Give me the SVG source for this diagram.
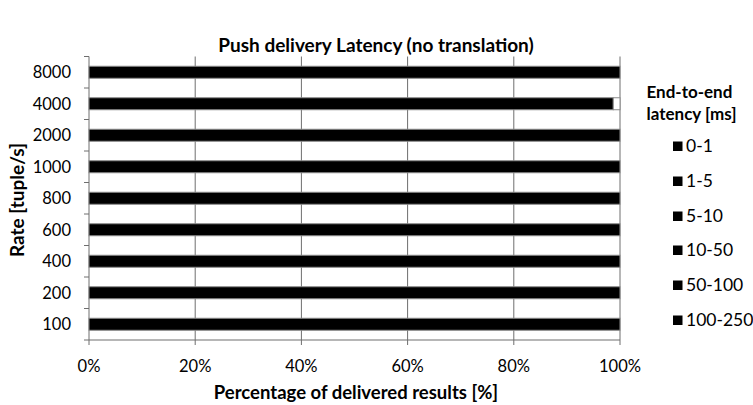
<svg xmlns="http://www.w3.org/2000/svg" width="753" height="405" viewBox="0 0 753 405">
<style>
text{font-family:Lato,"Open Sans","Liberation Sans",sans-serif;fill:#000}
.title{font-size:19px;font-weight:bold}
.axt{font-size:18.5px;font-weight:bold}
.yaxt{font-size:19px;font-weight:bold}
.tick{font-size:16.5px}
.leg{font-size:17.5px}
.legt{font-size:17px;font-weight:bold}
.grid{stroke:#6e6e6e;stroke-width:1}
.axis{stroke:#6e6e6e;stroke-width:1}
.bar{fill:#000;stroke:#8a8a8a;stroke-width:1}
.rest{fill:#fff;stroke:#8a8a8a;stroke-width:1}
.sw{fill:#000}
</style>
<rect width="753" height="405" fill="#fff"/>
<text class="title" x="376" y="52" text-anchor="middle">Push delivery Latency (no translation)</text>
<g id="gridlines">
<line class="grid" x1="195.2" y1="56.5" x2="195.2" y2="345"/>
<line class="grid" x1="301.4" y1="56.5" x2="301.4" y2="345"/>
<line class="grid" x1="407.6" y1="56.5" x2="407.6" y2="345"/>
<line class="grid" x1="513.8" y1="56.5" x2="513.8" y2="345"/>
<line class="grid" x1="620" y1="56.5" x2="620" y2="345"/>
</g>
<g id="axes">
<line class="axis" x1="89" y1="56.5" x2="89" y2="345"/>
<line class="axis" x1="89" y1="340" x2="620" y2="340"/>
<path class="axis" fill="none" d="M84 56.5H89M84 88H89M84 119.5H89M84 151H89M84 182.5H89M84 214H89M84 245.5H89M84 277H89M84 308.5H89M84 340H89"/>
</g>
<g id="bars">
<g id="bar-8000"><rect class="bar" x="89" y="66.25" width="531" height="12"/></g>
<g id="bar-4000"><rect class="bar" x="89" y="97.75" width="524.3" height="12"/><rect class="rest" x="613.3" y="97.75" width="6.7" height="12"/></g>
<g id="bar-2000"><rect class="bar" x="89" y="129.25" width="531" height="12"/></g>
<g id="bar-1000"><rect class="bar" x="89" y="160.75" width="531" height="12"/></g>
<g id="bar-800"><rect class="bar" x="89" y="192.25" width="531" height="12"/></g>
<g id="bar-600"><rect class="bar" x="89" y="223.75" width="531" height="12"/></g>
<g id="bar-400"><rect class="bar" x="89" y="255.25" width="531" height="12"/></g>
<g id="bar-200"><rect class="bar" x="89" y="286.75" width="531" height="12"/></g>
<g id="bar-100"><rect class="bar" x="89" y="318.25" width="531" height="12"/></g>
</g>
<g id="y-labels" text-anchor="end">
<text class="tick" x="71" y="78.2">8000</text>
<text class="tick" x="71" y="109.7">4000</text>
<text class="tick" x="71" y="141.2">2000</text>
<text class="tick" x="71" y="172.7">1000</text>
<text class="tick" x="71" y="204.2">800</text>
<text class="tick" x="71" y="235.7">600</text>
<text class="tick" x="71" y="267.2">400</text>
<text class="tick" x="71" y="298.7">200</text>
<text class="tick" x="71" y="330.2">100</text>
</g>
<g id="x-labels" text-anchor="middle">
<text class="tick" x="89" y="371.5">0%</text>
<text class="tick" x="195.2" y="371.5">20%</text>
<text class="tick" x="301.4" y="371.5">40%</text>
<text class="tick" x="407.6" y="371.5">60%</text>
<text class="tick" x="513.8" y="371.5">80%</text>
<text class="tick" x="620" y="371.5">100%</text>
</g>
<text class="axt" x="356" y="399" text-anchor="middle">Percentage of delivered results [%]</text>
<text class="yaxt" transform="translate(24,200) rotate(-90)" text-anchor="middle">Rate [tuple/s]</text>
<g id="legend">
<text class="legt" x="646.5" y="98.3">End-to-end</text>
<text class="legt" x="646.5" y="120">latency [ms]</text>
<g id="leg-0-1"><rect class="sw" x="673" y="141.5" width="9.5" height="9.5"/><text class="leg" x="686" y="152">0-1</text></g>
<g id="leg-1-5"><rect class="sw" x="673" y="176.5" width="9.5" height="9.5"/><text class="leg" x="686" y="187">1-5</text></g>
<g id="leg-5-10"><rect class="sw" x="673" y="211.5" width="9.5" height="9.5"/><text class="leg" x="686" y="222">5-10</text></g>
<g id="leg-10-50"><rect class="sw" x="673" y="245.5" width="9.5" height="9.5"/><text class="leg" x="686" y="256">10-50</text></g>
<g id="leg-50-100"><rect class="sw" x="673" y="280.5" width="9.5" height="9.5"/><text class="leg" x="686" y="291">50-100</text></g>
<g id="leg-100-250"><rect class="sw" x="673" y="315.5" width="9.5" height="9.5"/><text class="leg" x="686" y="326">100-250</text></g>
</g>
</svg>
